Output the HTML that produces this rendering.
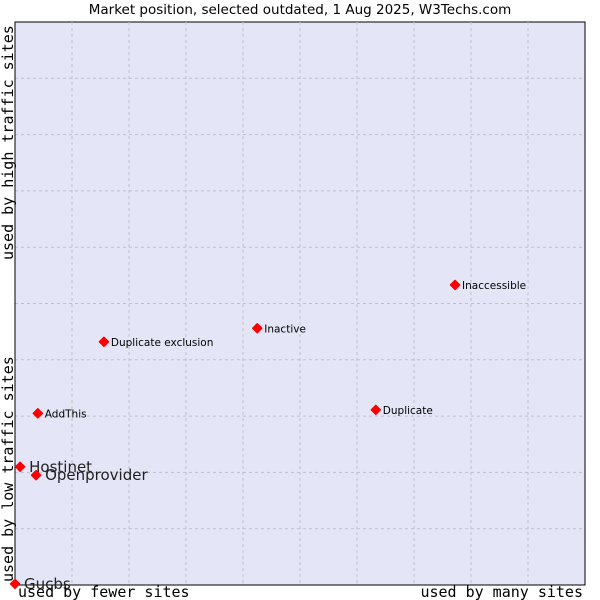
<!DOCTYPE html>
<html><head><meta charset="utf-8"><style>
body{margin:0;background:#fff;}
svg{display:block;font-family:"DejaVu Sans","Liberation Sans",sans-serif;}
</style></head><body>
<svg id="chart" width="600" height="600">
<rect x="0" y="0" width="600" height="600" fill="#fff"/>
<text x="300" y="14" text-anchor="middle" font-size="13.5" fill="#000">Market position, selected outdated, 1 Aug 2025, W3Techs.com</text>
<rect x="15" y="22" width="570" height="563" fill="#e4e6f8" stroke="#000" stroke-width="1"/>
<g id="grid"></g>
<line x1="15" y1="22" x2="15" y2="585" stroke="#000"/>
<line x1="15" y1="585" x2="585" y2="585" stroke="#000"/>
<g id="marks"></g>
<g font-family="'DejaVu Sans Mono','Liberation Mono',monospace" font-size="15" fill="#000">
<text x="18" y="597">used by fewer sites</text>
<text x="583" y="597" text-anchor="end">used by many sites</text>
<text transform="translate(13,582) rotate(-90)">used by low traffic sites</text>
<text transform="translate(13,260) rotate(-90)">used by high traffic sites</text>
</g>
</svg>
<script>
const names=["Gucbs","Hostinet","Openprovider","AddThis","Duplicate exclusion","Inactive","Duplicate","Inaccessible"];
const xValues=[0,0.9,3.7,4,15.6,42.5,63.3,77.2];
const yValues=[0.2,21,19.5,30.5,43.2,45.6,31.1,53.3];
const bigLabels=[true,true,true,false,false,false,false,false];
const X0=15,X1=585,Y0=585,Y1=22;
const xs=v=>X0+v/100*(X1-X0);
const ys=v=>Y0-v/100*(Y0-Y1);
const NS="http://www.w3.org/2000/svg";
const grid=document.getElementById('grid');
for(let i=1;i<10;i++){
  const l=document.createElementNS(NS,'line');
  l.setAttribute('x1',xs(i*10));l.setAttribute('x2',xs(i*10));l.setAttribute('y1',Y1);l.setAttribute('y2',Y0);
  l.setAttribute('stroke','#c0c0c8');l.setAttribute('stroke-dasharray','3,3');
  
  
  grid.appendChild(l);
  const h=document.createElementNS(NS,'line');
  h.setAttribute('x1',X0);h.setAttribute('x2',X1);h.setAttribute('y1',ys(i*10));h.setAttribute('y2',ys(i*10));
  h.setAttribute('stroke','#c0c0c8');h.setAttribute('stroke-dasharray','3,3');
  
  
  grid.appendChild(h);
}
const marks=document.getElementById('marks');
names.forEach((n,i)=>{
  const x=xs(xValues[i]),y=ys(yValues[i]);
  const p=document.createElementNS(NS,'polygon');
  p.setAttribute('points',`${x},${y-4.5} ${x+4.5},${y} ${x},${y+4.5} ${x-4.5},${y}`);
  p.setAttribute('fill','#ff0000');p.setAttribute('stroke','#ff0000');p.setAttribute('stroke-width','1.5');p.setAttribute('stroke-linejoin','round');
  
  
  marks.appendChild(p);
  const t=document.createElementNS(NS,'text');
  t.setAttribute('x',x+(bigLabels[i]?9:7));
  t.setAttribute('y',y+(bigLabels[i]?5:4));
  t.setAttribute('font-size',bigLabels[i]?'15':'10.5');
  t.setAttribute('fill',bigLabels[i]?'#222':'#000');
  t.textContent=n;
  
  
  marks.appendChild(t);
});
</script>
</body></html>
